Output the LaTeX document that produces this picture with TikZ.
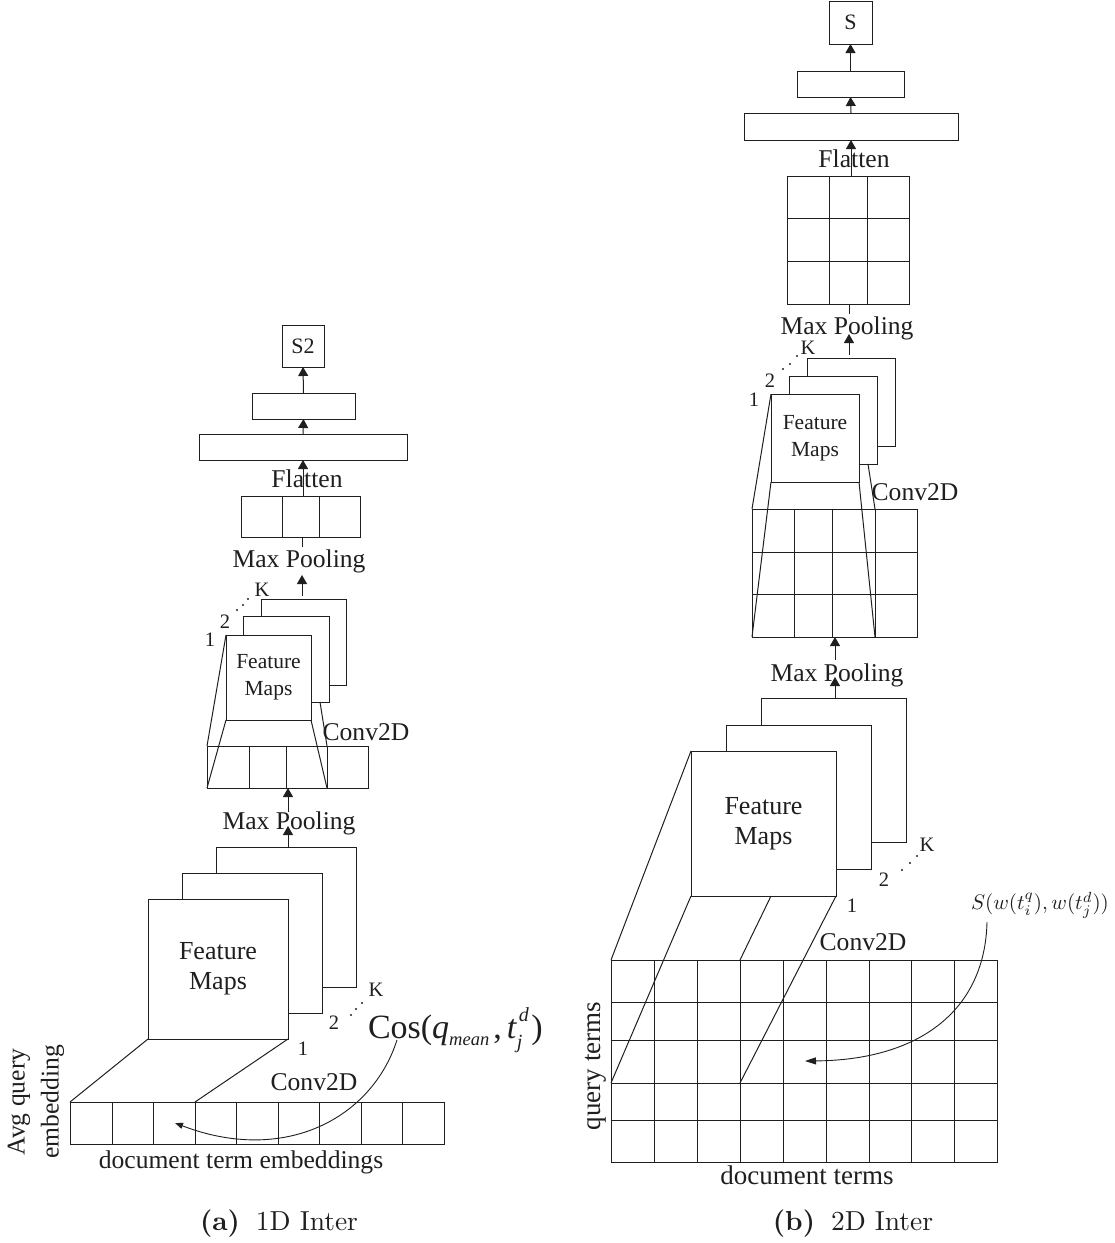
\documentclass[tikz,border=0pt]{standalone}
\usepackage{fontspec}
\usepackage{amsmath}
\usetikzlibrary{arrows.meta}
\newfontfamily\serf{Liberation Serif}
\definecolor{ink}{gray}{0.12}
\newcommand{\bigfm}{\fontsize{26}{30}\selectfont}
\newcommand{\smallfm}{\fontsize{21.5}{27}\selectfont}
\tikzset{
  cellbox/.style={draw=ink,line width=1pt,fill=white,inner sep=0pt,outer sep=0pt,align=center,font=\serf\fontsize{22}{27}\selectfont,text=ink},
  bigstack/.style={cellbox,font=\serf\bigfm},
  smallstack/.style={cellbox,font=\serf\smallfm},
  labeltxt/.style={inner sep=0pt,outer sep=0pt,font=\serf\fontsize{25.6}{30}\selectfont,text=ink,align=center},
  largetxt/.style={labeltxt,font=\serf\fontsize{27}{32}\selectfont},
  numtxt/.style={inner sep=0pt,outer sep=0pt,font=\serf\fontsize{20.5}{24}\selectfont,text=ink},
  ln/.style={draw=ink,line width=1pt},
  arr/.style={draw=ink,line width=1pt,-{Triangle[length=9pt,width=10pt]}},
  smallarr/.style={draw=ink,line width=0.9pt,-{Triangle[length=8pt,width=6pt]}},
  bigarr/.style={draw=ink,line width=0.9pt,-{Triangle[length=11pt,width=7pt]}},
  dot/.style={circle,fill=ink,inner sep=0pt,minimum size=2.4pt},
  caption/.style={inner sep=0pt,outer sep=0pt,text=ink},
}
\newcommand{\mkbox}[7][cellbox]{\node[#1,minimum width={(#5-#3)*1pt},minimum height={(#6-#4)*1pt}] (#2) at ({(#3+#5)/2},{(#4+#6)/2}) {#7};}
\begin{document}
\begin{tikzpicture}[x=1pt,y=-1pt]
\useasboundingbox (0,0) rectangle (1115,1243);

% ===== panel a
\mkbox{sA}{282}{325}{324}{367}{S2}
\mkbox{dA}{252}{393}{355}{419}{}
\mkbox{cA}{199}{434}{407}{460}{}
\mkbox{fgA}{241}{496}{360}{537}{}
\foreach \x in {282,319} \draw[ln] (\x,496) -- (\x,537);
\draw[arr] (dA.north) -- (sA.south);
\draw[arr] (cA.north) -- (dA.south);
\draw[arr] (cA.south |- fgA.north) -- (cA.south);
\node[labeltxt] (flatA) at (307,479) {Flatten};
% small stack a
\mkbox{s3A}{261}{599}{346}{685}{}
\mkbox{s2A}{243}{616}{329}{702}{}
\mkbox[smallstack]{s1A}{226}{635}{311}{720}{Feature\\Maps}
\coordinate (mpAa) at (302,547);
\coordinate (mpAb) at (302,575);
\coordinate (mpAc) at (302,596);
\draw[ln] (mpAa |- fgA.south) -- (mpAa);
\draw[arr] (mpAc) -- (mpAb);
\node[labeltxt] (mpA) at (299,561) {Max Pooling};
\node[numtxt] at (210,640) {1};
\node[numtxt] at (225,622) {2};
\node[numtxt] at (262,590) {K};
\node[dot] at (237,610) {}; \node[dot] at (243,605) {}; \node[dot] at (248,599) {};
% 1-row grid a
\mkbox{g1A}{207}{746}{368}{788}{}
\foreach \x in {249,286,327} \draw[ln] (\x,746) -- (\x,788);
\coordinate (s2Alow) at (320,702);
\coordinate (g1Ar) at (327,746);
\coordinate (g1Abr) at (327,788);
\draw[ln] (s1A.north west) -- (g1A.north west);
\draw[ln] (s1A.south west) -- (g1A.south west);
\draw[ln] (s1A.south east) -- (g1Abr);
\draw[ln] (s2Alow) -- (g1Ar);
\node[labeltxt] (cvA) at (366,732) {Conv2D};
% big stack a
\mkbox{b3A}{216}{847}{356}{987}{}
\mkbox{b2A}{182}{873}{322}{1013}{}
\mkbox[bigstack]{b1A}{148}{899}{288}{1039}{Feature\\Maps}
\coordinate (mpBa) at (288,826);
\coordinate (mpBb) at (288,812);
\draw[arr] (mpBa |- b3A.north) -- (mpBa);
\draw[arr] (mpBb) -- (mpBb |- g1A.south);
\node[labeltxt] (mpB) at (289,823) {Max Pooling};
\node[numtxt] at (303,1049) {1};
\node[numtxt] at (334,1023) {2};
\node[numtxt] at (376,990) {K};
\node[dot] at (351,1015) {}; \node[dot] at (356,1009) {}; \node[dot] at (362,1003) {};
% row a
\mkbox{rowA}{70}{1102}{444}{1144}{}
\foreach \x in {112,153,195,236,278,319,361,402} \draw[ln] (\x,1102) -- (\x,1144);
\coordinate (rowAm) at (195,1102);
\draw[ln] (b1A.south west) -- (rowA.north west);
\draw[ln] (b1A.south east) -- (rowAm);
\node[labeltxt] (cvB) at (314,1082) {Conv2D};
\node[labeltxt] (docA) at (241,1162) {document term embeddings};
\node[labeltxt,rotate=90,font=\serf\fontsize{25.6}{34}\selectfont] (avgA) at (36,1102) {Avg query\\embedding};
\node[inner sep=0pt,outer sep=0pt,anchor=base west,text=ink,font=\serf\fontsize{34}{40}\selectfont] (cosA) at (368,1038) {Cos(\textit{q}\raisebox{-7pt}{\fontsize{18.5}{22}\selectfont\textit{mean}}\hspace{4pt},\hspace{5pt}\textit{t}\rlap{\raisebox{17pt}{\hspace{2pt}\fontsize{20}{24}\selectfont\textit{d}}}\raisebox{-10pt}{\fontsize{20}{24}\selectfont\textit{j}}\hspace{9pt})};
\coordinate (cosArrow) at (175,1123);
\coordinate (cosStart) at (397,1040);
\draw[smallarr] (cosStart) .. controls (372,1118) and (285,1165) .. (cosArrow);
\node[caption] (capA) at (279,1224) {\scalebox{2.75}{\normalsize\textbf{(a)}\hspace{5.8pt}1D Inter}};

% ===== panel b
\mkbox{sB}{829}{1}{872}{44}{S}
\mkbox{dB}{797}{71}{904}{97}{}
\mkbox{cB}{744}{113}{958}{140}{}
\mkbox{fgB}{787}{176}{909}{304}{}
\foreach \x in {829,867} \draw[ln] (\x,176) -- (\x,304);
\foreach \y in {218,261} \draw[ln] (787,\y) -- (909,\y);
\draw[arr] (dB.north) -- (sB.south);
\draw[arr] (cB.north) -- (dB.south);
\draw[arr] (cB.south |- fgB.north) -- (cB.south);
\node[labeltxt] (flatB) at (854,159) {Flatten};
% small stack b
\mkbox{s3B}{807}{358}{895}{446}{}
\mkbox{s2B}{789}{376}{877}{464}{}
\mkbox[smallstack]{s1B}{771}{394}{859}{482}{Feature\\Maps}
\coordinate (mpCa) at (849,314);
\coordinate (mpCb) at (849,334);
\coordinate (mpCc) at (849,355);
\draw[ln] (mpCa |- fgB.south) -- (mpCa);
\draw[arr] (mpCc) -- (mpCb);
\node[labeltxt] (mpC) at (847,328) {Max Pooling};
\node[numtxt] at (754,400) {1};
\node[numtxt] at (770,381) {2};
\node[numtxt] at (808,348) {K};
\node[dot] at (783,369) {}; \node[dot] at (790,364) {}; \node[dot] at (797,356) {};
% 3x4 grid b
\mkbox{g3B}{752}{509}{917}{637}{}
\foreach \x in {794,832,875} \draw[ln] (\x,509) -- (\x,637);
\foreach \y in {552,594} \draw[ln] (752,\y) -- (917,\y);
\coordinate (s2Blow) at (868,464);
\coordinate (g3Br) at (875,509);
\coordinate (g3Bbr) at (875,637);
\draw[ln] (s1B.north west) -- (g3B.north west);
\draw[ln] (s1B.south west) -- (g3B.south west);
\draw[ln] (s1B.south east) -- (g3Bbr);
\draw[ln] (s2Blow) -- (g3Br);
\node[labeltxt] (cvC) at (915,492) {Conv2D};
% big stack b
\mkbox{b3B}{761}{698}{906}{842}{}
\mkbox{b2B}{726}{725}{871}{869}{}
\mkbox[bigstack]{b1B}{691}{751}{836}{896}{Feature\\Maps}
\coordinate (mpDa) at (835,677);
\coordinate (mpDb) at (835,660);
\draw[arr] (mpDa |- b3B.north) -- (mpDa);
\draw[arr] (mpDb) -- (mpDb |- g3B.south);
\node[labeltxt] (mpD) at (837,675) {Max Pooling};
\node[numtxt] at (852,906) {1};
\node[numtxt] at (884,880) {2};
\node[numtxt] at (927,845) {K};
\node[dot] at (902,870) {}; \node[dot] at (910,863) {}; \node[dot] at (917,856) {};
% big grid b
\mkbox{g5B}{611}{960}{997}{1162}{}
\foreach \x in {654,697,740,783,826,869,911,954} \draw[ln] (\x,960) -- (\x,1162);
\foreach \y in {1002,1040,1083,1120} \draw[ln] (611,\y) -- (997,\y);
\coordinate (g5Bl) at (611,1083);
\coordinate (g5Bm) at (740,1083);
\coordinate (g5Bt) at (740,960);
\coordinate (b1Bm) at (771,896);
\draw[ln] (b1B.north west) -- (g5B.north west);
\draw[ln] (b1B.south west) -- (g5Bl);
\draw[ln] (b1B.south east) -- (g5Bm);
\draw[ln] (b1Bm) -- (g5Bt);
\node[labeltxt] (cvD) at (863,942) {Conv2D};
\node[largetxt] (docB) at (807,1175) {document terms};
\node[largetxt,rotate=90] (qryB) at (596,1066) {query terms};
\node[inner sep=0pt,outer sep=0pt,text=ink] (simB) at (1040,905) {\scalebox{2.1}{$S(w(t_i^q),w(t_j^d))$}};
\coordinate (simStart) at (987,922);
\coordinate (simEnd) at (805,1061);
\draw[bigarr] (simStart) .. controls (985,1010) and (920,1060) .. (simEnd);
\node[caption] (capB) at (853,1224) {\scalebox{2.75}{\normalsize\textbf{(b)}\hspace{5.8pt}2D Inter}};
\end{tikzpicture}
\end{document}
